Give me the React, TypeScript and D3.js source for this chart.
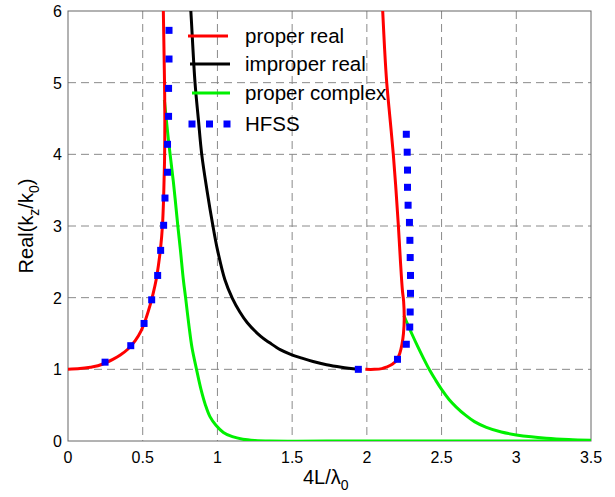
import React from "react";
import * as d3 from "d3";

type P = [number, number];

const xTicks = [0, 0.5, 1, 1.5, 2, 2.5, 3, 3.5];
const xTickLabels = ["0", "0.5", "1", "1.5", "2", "2.5", "3", "3.5"];
const yTicks = [0, 1, 2, 3, 4, 5, 6];
const yTickLabels = ["0", "1", "2", "3", "4", "5", "6"];

const legendLabels = ["proper real", "improper real", "proper complex", "HFSS"];

const properRealLeft: P[] = [
  [0, 1.0], [0.08, 1.01], [0.15, 1.03], [0.2, 1.05], [0.25, 1.09], [0.3, 1.14],
  [0.35, 1.2], [0.4, 1.28], [0.45, 1.4], [0.49, 1.54], [0.52, 1.7], [0.55, 1.9],
  [0.57, 2.06], [0.59, 2.25], [0.605, 2.45], [0.62, 2.7], [0.632, 3.0], [0.64, 3.4],
  [0.646, 3.9], [0.648, 4.5], [0.646, 5.0], [0.642, 5.5], [0.638, 6.0], [0.636, 6.2],
];

const properRealRight: P[] = [
  [1.99, 1.0], [2.05, 1.0], [2.1, 1.01], [2.13, 1.03], [2.17, 1.07], [2.2, 1.13],
  [2.22, 1.22], [2.235, 1.35], [2.245, 1.5], [2.25, 1.7], [2.246, 1.95], [2.238, 2.1],
  [2.225, 2.5], [2.211, 3.0], [2.195, 3.5], [2.177, 4.0], [2.155, 4.5], [2.133, 5.0],
  [2.118, 5.5], [2.106, 6.0], [2.1, 6.2],
];

const improperReal: P[] = [
  [0.815, 6.2], [0.822, 6.0], [0.85, 5.0], [0.872, 4.5], [0.895, 4.0], [0.93, 3.5],
  [0.97, 3.0], [1.0, 2.67], [1.05, 2.25], [1.1, 1.99], [1.15, 1.8], [1.2, 1.65],
  [1.29, 1.46], [1.35, 1.37], [1.42, 1.275], [1.49, 1.21], [1.56, 1.16], [1.64, 1.11],
  [1.73, 1.065], [1.83, 1.03], [1.945, 1.0],
];

const properComplexLeft: P[] = [
  [0.645, 4.76], [0.672, 4.2], [0.705, 3.62], [0.735, 3.0], [0.752, 2.67], [0.772, 2.25],
  [0.787, 2.0], [0.81, 1.6], [0.83, 1.3], [0.86, 1.0], [0.89, 0.72], [0.92, 0.5],
  [0.95, 0.34], [0.99, 0.22], [1.04, 0.12], [1.1, 0.06], [1.17, 0.025], [1.25, 0.008],
  [1.35, 0.0], [2.0, 0.0], [3.5, 0.0],
];

const properComplexRight: P[] = [
  [2.248, 1.75], [2.27, 1.64], [2.3, 1.5], [2.34, 1.32], [2.38, 1.15], [2.42, 0.99],
  [2.46, 0.85], [2.5, 0.72], [2.55, 0.58], [2.6, 0.47], [2.66, 0.36], [2.72, 0.27],
  [2.8, 0.19], [2.9, 0.125], [3.0, 0.085], [3.1, 0.058], [3.2, 0.04], [3.35, 0.022],
  [3.5, 0.01],
];

const hfssLeft: P[] = [
  [0.248, 1.1], [0.42, 1.33], [0.509, 1.64], [0.56, 1.97], [0.6, 2.31], [0.62, 2.66],
  [0.64, 3.01], [0.649, 3.39], [0.666, 3.75], [0.666, 4.14], [0.673, 4.53], [0.673, 4.92],
  [0.676, 5.33], [0.676, 5.73],
];

const hfssRight: P[] = [
  [1.943, 1.0], [2.205, 1.14], [2.264, 1.35], [2.287, 1.59], [2.29, 1.8], [2.292, 2.06],
  [2.292, 2.31], [2.29, 2.56], [2.288, 2.8], [2.285, 3.05], [2.276, 3.29], [2.272, 3.54],
  [2.272, 3.78], [2.27, 4.03], [2.264, 4.28],
];

const W = 615;
const H = 497;
const M = { left: 68, right: 591, top: 11, bottom: 441 };

export default function App() {
  const x = d3.scaleLinear().domain([0, 3.5]).range([M.left, M.right]);
  const y = d3.scaleLinear().domain([0, 6]).range([M.bottom, M.top]);
  const line = d3
    .line<P>()
    .x((d) => x(d[0]))
    .y((d) => y(d[1]))
    .curve(d3.curveCatmullRom.alpha(0.5));

  const font = "Arial, 'Liberation Sans', Helvetica, sans-serif";
  const gridColor = "#8a8a8a";
  const axisColor = "#666";
  const sq = 7;

  const curves: { data: P[]; color: string }[] = [
    { data: properComplexLeft, color: "#00f000" },
    { data: properComplexRight, color: "#00f000" },
    { data: improperReal, color: "#000000" },
    { data: properRealLeft, color: "#ff0000" },
    { data: properRealRight, color: "#ff0000" },
  ];

  const legendRows = [
    { y: 36, color: "#ff0000", x0: 188, x1: 228, kind: "line" },
    { y: 64, color: "#000000", x0: 190, x1: 230, kind: "line" },
    { y: 93, color: "#00f000", x0: 192, x1: 230, kind: "line" },
    { y: 124, color: "#0000ff", x0: 192, x1: 227, kind: "marker" },
  ];

  return (
    <svg
      width={W}
      height={H}
      style={{ position: "absolute", left: 0, top: 0, background: "#fff" }}
      fontFamily={font}
    >
      <defs>
        <clipPath id="plotclip">
          <rect x={M.left} y={M.top} width={M.right - M.left} height={M.bottom - M.top} />
        </clipPath>
      </defs>
      <rect x={0} y={0} width={W} height={H} fill="#fff" />
      {xTicks.slice(1, -1).map((t) => (
        <line
          key={"gx" + t}
          x1={x(t)}
          x2={x(t)}
          y1={M.top}
          y2={M.bottom}
          stroke={gridColor}
          strokeWidth={1}
          strokeDasharray="8,5"
        />
      ))}
      {yTicks.slice(1, -1).map((t) => (
        <line
          key={"gy" + t}
          x1={M.left}
          x2={M.right}
          y1={y(t)}
          y2={y(t)}
          stroke={gridColor}
          strokeWidth={1}
          strokeDasharray="8,5"
        />
      ))}
      <rect
        x={M.left}
        y={M.top}
        width={M.right - M.left}
        height={M.bottom - M.top}
        fill="none"
        stroke={axisColor}
        strokeWidth={1}
      />
      <g clipPath="url(#plotclip)">
        {curves.map((c, i) => (
          <path
            key={i}
            d={line(c.data) || ""}
            fill="none"
            stroke={c.color}
            strokeWidth={3}
            strokeLinejoin="round"
          />
        ))}
        {[...hfssLeft, ...hfssRight].map((p, i) => (
          <rect
            key={"h" + i}
            x={x(p[0]) - sq / 2}
            y={y(p[1]) - sq / 2}
            width={sq}
            height={sq}
            fill="#0000ff"
          />
        ))}
      </g>
      {xTicks.map((t, i) => (
        <text key={"xt" + t} x={x(t)} y={463} textAnchor="middle" fontSize={16} fill="#000">
          {xTickLabels[i]}
        </text>
      ))}
      {yTicks.map((t, i) => (
        <text key={"yt" + t} x={62} y={y(t) + 6} textAnchor="end" fontSize={16} fill="#000">
          {yTickLabels[i]}
        </text>
      ))}
      <text x={303} y={484} fontSize={20} fill="#000">
        4L/λ
        <tspan dy={6} fontSize={14}>0</tspan>
      </text>
      <text
        transform={`translate(33, ${(M.top + M.bottom) / 2}) rotate(-90)`}
        textAnchor="middle"
        fontSize={20}
        fill="#000"
      >
        Real(k
        <tspan dy={6} fontSize={14}>z</tspan>
        <tspan dy={-6}>/k</tspan>
        <tspan dy={6} fontSize={14}>0</tspan>
        <tspan dy={-6}>)</tspan>
      </text>
      {legendRows.map((r, i) => (
        <g key={"lg" + i}>
          {r.kind === "line" ? (
            <line x1={r.x0} x2={r.x1} y1={r.y} y2={r.y} stroke={r.color} strokeWidth={3} />
          ) : (
            [r.x0, (r.x0 + r.x1) / 2, r.x1].map((mx, j) => (
              <rect key={j} x={mx - sq / 2} y={r.y - sq / 2} width={sq} height={sq} fill={r.color} />
            ))
          )}
          <text x={245} y={r.y + 7} fontSize={20.5} fill="#000">
            {legendLabels[i]}
          </text>
        </g>
      ))}
    </svg>
  );
}
